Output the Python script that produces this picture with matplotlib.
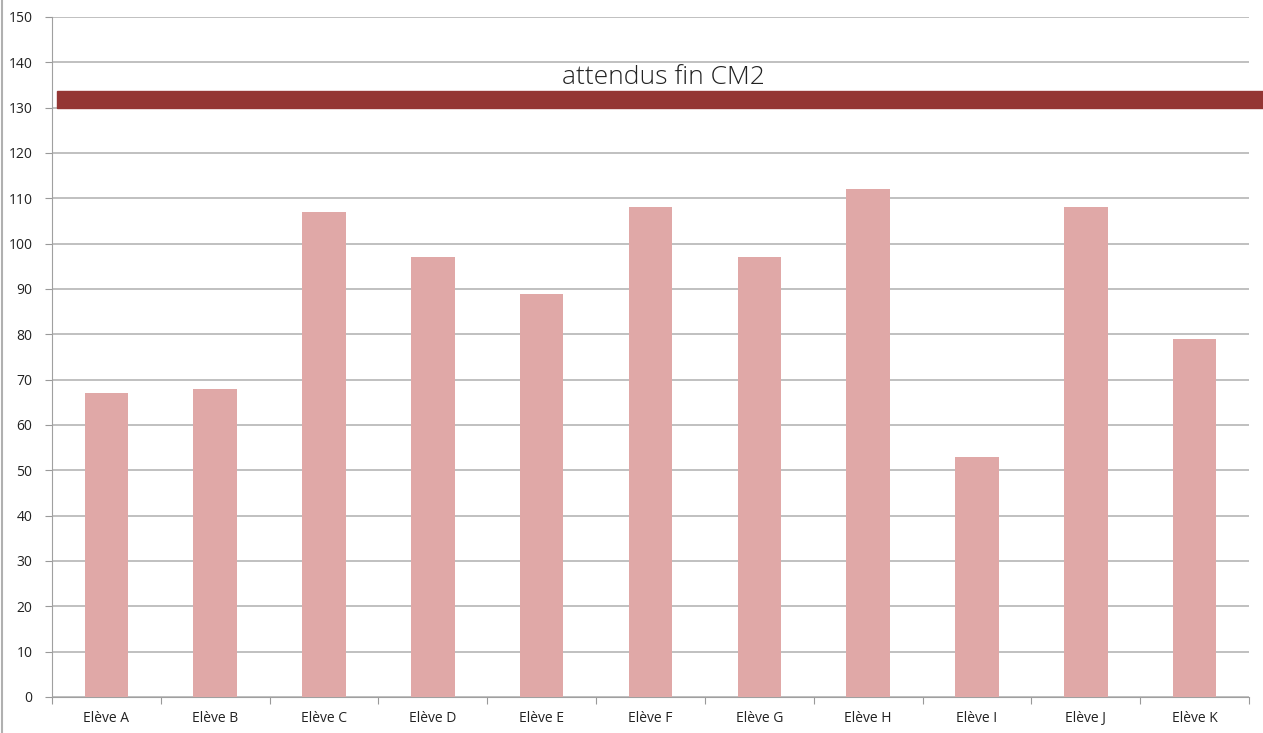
import matplotlib
matplotlib.use("Agg")
import matplotlib.pyplot as plt
from matplotlib.lines import Line2D

categories = ["Elève A", "Elève B", "Elève C", "Elève D", "Elève E", "Elève F",
              "Elève G", "Elève H", "Elève I", "Elève J", "Elève K"]
values = [67, 68, 107, 97, 89, 108, 97, 112, 53, 108, 79]
target_low = 130
target_high = 133.7
target_label = "attendus fin CM2"
yticks = list(range(0, 151, 10))

fig = plt.figure(figsize=(12.63, 7.33), dpi=100)
ax = fig.add_axes([52/1263, 36/733, (1249-52)/1263, (697-17)/733])

x = list(range(len(categories)))
ax.bar(x, values, width=0.4, color="#E0A8A7", zorder=3)

ax.set_xlim(-0.5, len(categories) - 0.5)
ax.set_ylim(0, 150)
ax.set_yticks(yticks)
ax.set_xticks([i - 0.5 for i in range(len(categories) + 1)], minor=False)
ax.set_xticklabels([])
ax.set_xticks(x, minor=True)
ax.set_xticklabels(categories, minor=True)
ax.tick_params(axis="x", which="minor", length=0, pad=10, labelsize=10, labelcolor="#222222")
ax.tick_params(axis="x", which="major", length=5, color="#999999", direction="out")
ax.tick_params(axis="y", length=5, color="#999999", labelsize=10, labelcolor="#222222", pad=9)
for lab in ax.get_xticklabels(minor=True) + ax.get_yticklabels():
    lab.set_fontfamily("Open Sans")

ax.grid(axis="y", color="#B5B5B5", linewidth=1.2, zorder=0)
for s in ["top", "right"]:
    ax.spines[s].set_visible(False)
ax.spines["left"].set_color("#A0A0A0")
ax.spines["bottom"].set_color("#A0A0A0")

span = ax.axhspan(target_low, target_high, xmin=(57-52)/1197, xmax=(1263-52)/1197,
                  color="#943634", zorder=4)
span.set_clip_on(False)
ax.text(5.115, target_high + 0.1, target_label, ha="center", va="bottom",
        fontsize=19, fontfamily="Open Sans", fontweight="light", color="#222222", zorder=5)

fig.add_artist(Line2D([2/1263, 2/1263], [0, 1], color="#B0B0B0", linewidth=1.5))

fig.savefig("out.png", dpi=100)
